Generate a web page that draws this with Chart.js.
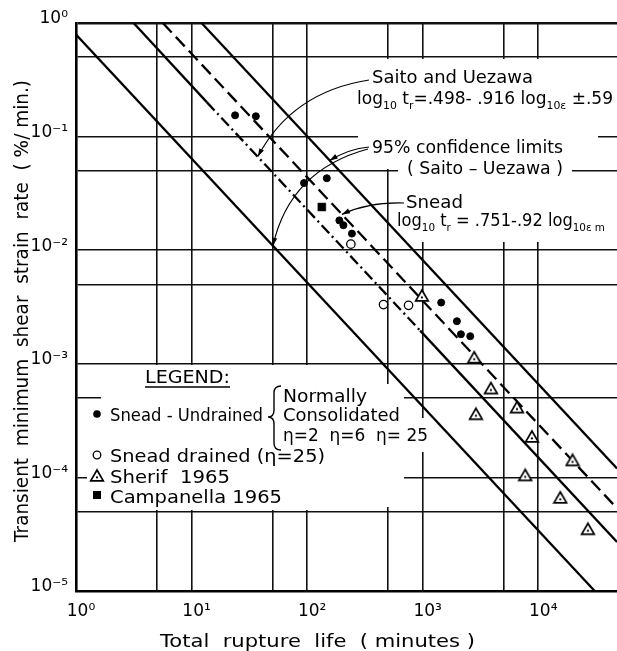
<!DOCTYPE html>
<html><head><meta charset="utf-8">
<script src="https://cdn.jsdelivr.net/npm/chart.js@4.4.1/dist/chart.umd.min.js"></script>
<style>html,body{margin:0;padding:0;background:#fff;}#wrap{width:617px;height:651px;position:relative;}</style>
</head><body><div id="wrap"><canvas id="c" width="617" height="651"></canvas></div>
<script>
// ---------- data ----------
// Snead - Undrained (filled circles): rupture life (min), strain rate (%/min)
const sneadUndrainedLife = [23.8, 36, 94, 148, 190, 206, 244, 1445, 1977, 2142, 2578];
const sneadUndrainedRate = [0.154, 0.151, 0.039, 0.043, 0.0183, 0.0166, 0.014, 0.00346, 0.00237, 0.00182, 0.00175];
// Snead drained (open circles)
const sneadDrainedLife = [239, 458, 754];
const sneadDrainedRate = [0.0113, 0.00332, 0.00327];
// Sherif 1965 (triangles)
const sherifLife = [984, 2790, 3890, 2885, 6540, 8810, 19800, 7710, 15500, 26900];
const sherifRate = [0.00395, 0.00113, 0.000605, 0.000359, 0.000411, 0.000227, 0.000141, 0.000104, 0.000066, 0.0000349];
// Campanella 1965 (filled square)
const campanellaLife = [134];
const campanellaRate = [0.024];
// Lines
const saitoLife = [3.15, 13.6, 950, 48000];
const saitoRate = [1, 0.2, 0.00196, 0.000027];
const sneadLineLife = [5.64, 48000];
const sneadLineRate = [1, 0.0000535];
const upperLimitLife = [12.2, 48000];
const upperLimitRate = [1, 0.00012];
const lowerLimitLife = [1, 30800];
const lowerLimitRate = [0.79, 0.00001];
// Axes
const xGridValues = [1, 5, 10, 50, 100, 500, 1000, 5000, 10000];
const xTickValues = [1, 10, 100, 1000, 10000];
const xTickLabels = ['10⁰', '10¹', '10²', '10³', '10⁴'];
const yGridValues = [0.00001, 0.00005, 0.0001, 0.0005, 0.001, 0.005, 0.01, 0.05, 0.1, 0.5, 1];
const yTickValues = [0.00001, 0.0001, 0.001, 0.01, 0.1, 1];
const yTickLabels = ['10⁻⁵', '10⁻⁴', '10⁻³', '10⁻²', '10⁻¹', '10⁰'];

const FONT = 'DejaVu Sans';
const zip = (xs, ys) => xs.map((x, i) => ({x: x, y: ys[i]}));

function makeTri() {
  const c = document.createElement('canvas'); c.width = 16; c.height = 16;
  const g = c.getContext('2d');
  g.beginPath(); g.moveTo(8, 2); g.lineTo(14.3, 12.8); g.lineTo(1.7, 12.8); g.closePath();
  g.fillStyle = '#fff'; g.fill(); g.lineWidth = 1.7; g.strokeStyle = '#000'; g.stroke();
  g.beginPath(); g.arc(8, 9.4, 1.1, 0, Math.PI * 2); g.fillStyle = '#000'; g.fill();
  return c;
}
const triImg = makeTri();

function drawRich(ctx, parts, x, y, size, targetW, rot) {
  const sub = size * 0.64;
  let w = 0;
  parts.forEach(p => { ctx.font = (p[1] ? sub : size) + 'px "' + FONT + '"'; w += ctx.measureText(p[0]).width; });
  const sx = targetW ? targetW / w : 1;
  ctx.save();
  ctx.translate(x, y);
  if (rot) ctx.rotate(rot);
  ctx.scale(sx, 1);
  ctx.textAlign = 'left'; ctx.textBaseline = 'alphabetic'; ctx.fillStyle = '#000';
  let cx = 0;
  parts.forEach(p => {
    ctx.font = (p[1] ? sub : size) + 'px "' + FONT + '"';
    ctx.fillText(p[0], cx, p[1] ? size * 0.28 : 0);
    cx += ctx.measureText(p[0]).width;
  });
  ctx.restore();
}

const notes = [
  {parts: [['Saito and Uezawa', 0]], x: 372, y: 83, w: 161},
  {parts: [['log', 0], ['10', 1], [' t', 0], ['r', 1], ['=.498- .916 log', 0], ['10ε', 1], [' ±.59', 0]], x: 357, y: 104, w: 256},
  {parts: [['95% confidence limits', 0]], x: 372, y: 153, w: 191},
  {parts: [['( Saito – Uezawa )', 0]], x: 407, y: 174, w: 156},
  {parts: [['Snead', 0]], x: 406, y: 208, w: 57},
  {parts: [['log', 0], ['10', 1], [' t', 0], ['r', 1], [' = .751-.92 log', 0], ['10ε m', 1]], x: 397, y: 226, w: 208},
  {parts: [['LEGEND:', 0]], x: 145, y: 383, w: 85},
  {parts: [['Snead - Undrained', 0]], x: 110, y: 421, w: 153},
  {parts: [['Normally', 0]], x: 283, y: 402, w: 84},
  {parts: [['Consolidated', 0]], x: 283, y: 421, w: 117},
  {parts: [['η=2  η=6  η= 25', 0]], x: 283, y: 441, w: 145},
  {parts: [['Snead drained (η=25)', 0]], x: 110, y: 462, w: 215},
  {parts: [['Sherif  1965', 0]], x: 110, y: 483, w: 120},
  {parts: [['Campanella 1965', 0]], x: 110, y: 503, w: 172}
];

// white boxes behind text (hide grid there)
const masks = [
  [358, 59, 598, 169], [398, 169, 572, 242],
  [78, 365, 380, 392], [101, 392, 380, 402], [78, 402, 380, 473],
  [87, 473, 380, 482], [78, 482, 380, 510], [380, 384, 404, 507], [404, 418, 432, 452]
];

function arrowTo(ctx, sx, sy, cx, cy, ex, ey) {
  ctx.beginPath(); ctx.moveTo(sx, sy); ctx.quadraticCurveTo(cx, cy, ex, ey); ctx.stroke();
  const a = Math.atan2(ey - cy, ex - cx), L = 8, h = 2.6;
  ctx.beginPath();
  ctx.moveTo(ex, ey);
  ctx.lineTo(ex - L * Math.cos(a) + h * Math.sin(a), ey - L * Math.sin(a) - h * Math.cos(a));
  ctx.lineTo(ex - L * Math.cos(a) - h * Math.sin(a), ey - L * Math.sin(a) + h * Math.cos(a));
  ctx.closePath(); ctx.fill();
}

const decor = {
  id: 'decor',
  beforeDatasetsDraw(chart) {
    const ctx = chart.ctx;
    ctx.save(); ctx.fillStyle = '#fff';
    masks.forEach(m => ctx.fillRect(m[0], m[1], m[2] - m[0], m[3] - m[1]));
    ctx.restore();
  },
  afterDatasetsDraw(chart) {
    const ctx = chart.ctx, xs = chart.scales.x, ys = chart.scales.y;
    ctx.save();
    notes.forEach(n => drawRich(ctx, n.parts, n.x, n.y, 17, n.w));
    // underline LEGEND:
    ctx.strokeStyle = '#000'; ctx.fillStyle = '#000'; ctx.lineWidth = 1.3;
    ctx.beginPath(); ctx.moveTo(145, 387); ctx.lineTo(230, 387); ctx.stroke();
    // brace
    ctx.lineWidth = 1.4;
    ctx.beginPath();
    ctx.moveTo(281, 386); ctx.quadraticCurveTo(274, 386, 274, 393); ctx.lineTo(274, 410);
    ctx.quadraticCurveTo(274, 417, 268, 417); ctx.quadraticCurveTo(274, 417, 274, 424);
    ctx.lineTo(274, 443); ctx.quadraticCurveTo(274, 450, 281, 450); ctx.stroke();
    // legend markers
    ctx.beginPath(); ctx.arc(97, 414, 3.8, 0, Math.PI * 2); ctx.fill();
    ctx.beginPath(); ctx.arc(97, 455, 3.8, 0, Math.PI * 2); ctx.fillStyle = '#fff'; ctx.fill();
    ctx.lineWidth = 1.3; ctx.stroke(); ctx.fillStyle = '#000';
    ctx.drawImage(triImg, 89, 468);
    ctx.fillRect(93, 491, 8, 8);
    // leaders
    ctx.lineWidth = 1.2;
    const px = (v) => xs.getPixelForValue(v), py = (v) => ys.getPixelForValue(v);
    arrowTo(ctx, 369, 80, 292, 92, px(37.5), py(0.0669));
    arrowTo(ctx, 369, 147, 348, 149, px(157), py(0.0615));
    arrowTo(ctx, 368, 149, 290, 170, px(50.6), py(0.01094));
    arrowTo(ctx, 404, 203, 368, 202, px(200), py(0.02066));
    // axis titles
    drawRich(ctx, [['Total  rupture  life  ( minutes )', 0]], 160, 647, 18, 315);
    drawRich(ctx, [['Transient  minimum  shear  strain  rate  ( %/ min.)', 0]], 28, 542, 19, 462, -Math.PI / 2);
    ctx.restore();
  }
};

const lineBase = {showLine: true, borderColor: '#000', borderWidth: 2.3, pointRadius: 0, order: 1, fill: false};

new Chart(document.getElementById('c'), {
  type: 'scatter',
  data: {
    datasets: [
      {label: 'Snead - Undrained', data: zip(sneadUndrainedLife, sneadUndrainedRate), pointStyle: 'circle', pointRadius: 3.5, pointBackgroundColor: '#000', pointBorderColor: '#000', pointBorderWidth: 1, order: 0},
      {label: 'Snead drained (η=25)', data: zip(sneadDrainedLife, sneadDrainedRate), pointStyle: 'circle', pointRadius: 4.2, pointBackgroundColor: '#fff', pointBorderColor: '#000', pointBorderWidth: 1.3, order: 0},
      {label: 'Sherif 1965', data: zip(sherifLife, sherifRate), pointStyle: triImg, pointRadius: 7, order: 0},
      {label: 'Campanella 1965', data: zip(campanellaLife, campanellaRate), pointStyle: 'rect', pointRadius: 5.6, pointBackgroundColor: '#000', pointBorderColor: '#000', pointBorderWidth: 0.5, order: 0},
      Object.assign({label: 'Saito and Uezawa', data: zip(saitoLife, saitoRate), segment: {borderDash: c => c.p0DataIndex === 1 ? [11, 4, 2, 4] : undefined}}, lineBase),
      Object.assign({label: 'Snead', data: zip(sneadLineLife, sneadLineRate), borderDash: [13, 6]}, lineBase),
      Object.assign({label: '95% upper limit', data: zip(upperLimitLife, upperLimitRate)}, lineBase),
      Object.assign({label: '95% lower limit', data: zip(lowerLimitLife, lowerLimitRate)}, lineBase)
    ]
  },
  options: {
    responsive: false, animation: false, events: [],
    layout: {autoPadding: false, padding: {top: 23, right: 0, left: 0, bottom: 0}},
    plugins: {legend: {display: false}, tooltip: {enabled: false}},
    scales: {
      x: {
        type: 'logarithmic', min: 1, max: 48000,
        afterBuildTicks: s => { s.ticks = xGridValues.map(v => ({value: v})); },
        afterFit: s => { s.height = 60; },
        grid: {color: '#111', lineWidth: 1.6, drawTicks: false},
        border: {display: true, color: '#000', width: 2.6},
        ticks: {autoSkip: false, maxRotation: 0, padding: 10, labelOffset: 5, color: '#000', font: {family: FONT, size: 17},
          callback: v => { const i = xTickValues.indexOf(v); return i >= 0 ? xTickLabels[i] : ''; }}
      },
      y: {
        type: 'logarithmic', min: 0.00001, max: 1,
        afterBuildTicks: s => { s.ticks = yGridValues.map(v => ({value: v})); },
        afterFit: s => { s.width = 76; },
        grid: {color: '#111', lineWidth: c => (c.tick && c.tick.value === 1) ? 2.6 : 1.6, drawTicks: false},
        border: {display: true, color: '#000', width: 2.6},
        ticks: {autoSkip: false, padding: 8, labelOffset: -4, color: '#000', font: {family: FONT, size: 17},
          callback: v => { const i = yTickValues.findIndex(t => Math.abs(t - v) / t < 1e-6); return i >= 0 ? yTickLabels[i] : ''; }}
      }
    }
  },
  plugins: [decor]
});
</script></body></html>
